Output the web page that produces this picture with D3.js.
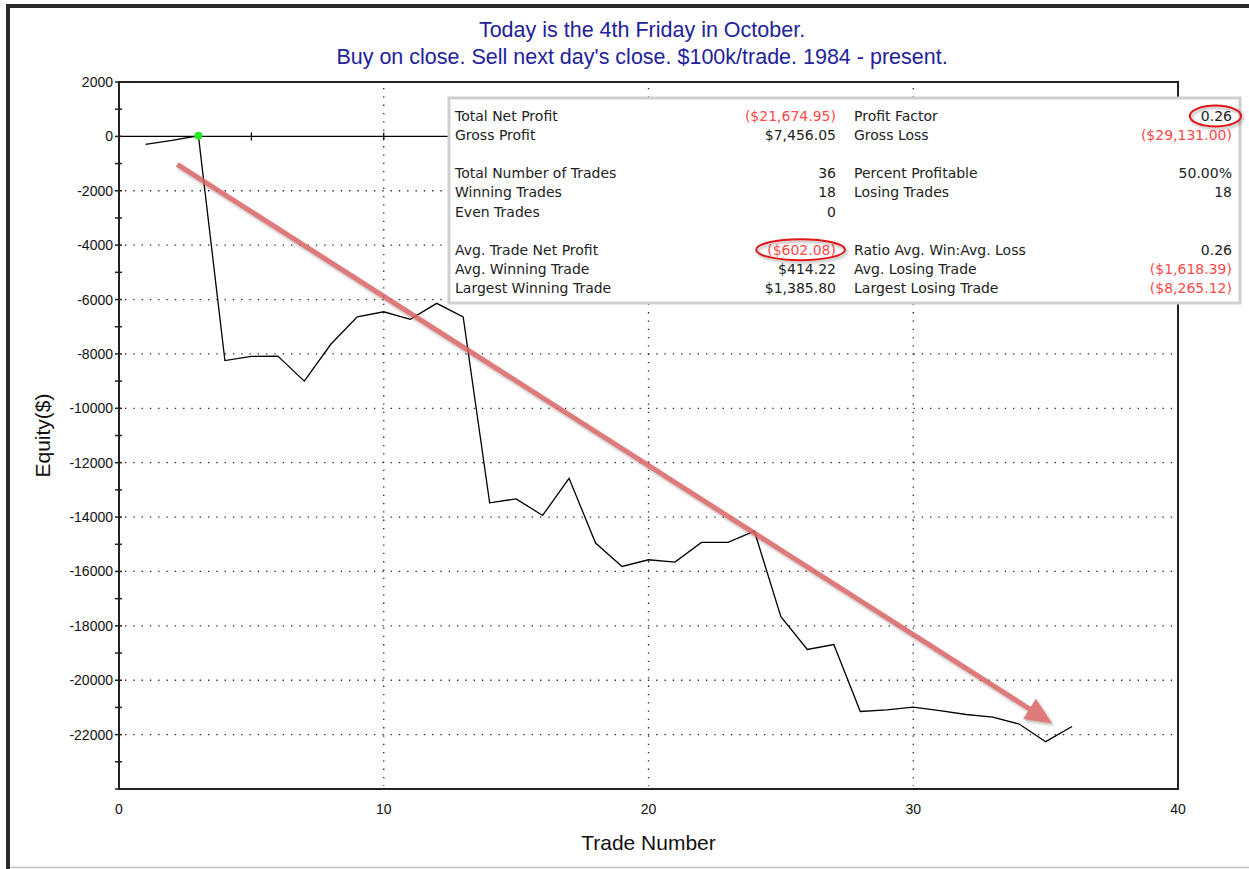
<!DOCTYPE html>
<html>
<head>
<meta charset="utf-8">
<script src="https://cdn.jsdelivr.net/npm/d3@7"></script>
<style>
  body { margin: 0; background: #fff; }
  svg { display: block; }
</style>
</head>
<body>
<div id="chart"></div>
<script>
// equity curve, one value per trade
const tradeNumbers = d3.range(1, 37);
const equity = [-290, -150, 20, -8245, -8090, -8080, -9000, -7645, -6635, -6450,
  -6730, -6140, -6635, -13475, -13330, -13940, -12575, -14955, -15815, -15570,
  -15655, -14930, -14930, -14520, -17665, -18870, -18690, -21150, -21090, -20990,
  -21115, -21260, -21360, -21610, -22260, -21700];
const peakTrade = 3;

const xTicks = [0, 10, 20, 30, 40];
const yTicks = d3.range(2000, -22001, -2000);
const yMinorTicks = d3.range(2000, -24001, -1000);
const zeroLineTicks = d3.range(5, 40, 5);

// trend arrow drawn on top, in data units
const trendArrow = [[2.2, -1030], [35.25, -21590]];

const titleLines = [
  "Today is the 4th Friday in October.",
  "Buy on close. Sell next day's close. $100k/trade. 1984 - present."
];

// performance summary box
const statRows = [0, 1, 3, 4, 5, 7, 8, 9];
const statLabelsLeft = ["Total Net Profit", "Gross Profit", "Total Number of Trades", "Winning Trades",
  "Even Trades", "Avg. Trade Net Profit", "Avg. Winning Trade", "Largest Winning Trade"];
const statValuesLeft = ["($21,674.95)", "$7,456.05", "36", "18", "0", "($602.08)", "$414.22", "$1,385.80"];
const statLabelsRight = ["Profit Factor", "Gross Loss", "Percent Profitable", "Losing Trades",
  "", "Ratio Avg. Win:Avg. Loss", "Avg. Losing Trade", "Largest Losing Trade"];
const statValuesRight = ["0.26", "($29,131.00)", "50.00%", "18", "", "0.26", "($1,618.39)", "($8,265.12)"];
const circledLeft = ["($602.08)"];
const circledRight = ["0.26"];

const width = 1249, height = 869;
const margin = { top: 82, right: 71, bottom: 80, left: 119 };

const svg = d3.select("#chart").append("svg")
  .attr("width", width)
  .attr("height", height)
  .style("font-family", "'Liberation Sans', Arial, sans-serif");

const defs = svg.append("defs");
const shadow = defs.append("filter").attr("id", "shadow")
  .attr("x", "-20%").attr("y", "-20%").attr("width", "140%").attr("height", "160%");
shadow.append("feDropShadow").attr("dx", 1.5).attr("dy", 2).attr("stdDeviation", 1.5)
  .attr("flood-color", "#000").attr("flood-opacity", 0.35);

// window frame
svg.append("rect").attr("width", width).attr("height", height).attr("fill", "#fff");
svg.append("rect").attr("x", 6).attr("y", 4).attr("width", width - 6).attr("height", 4).attr("fill", "#2b2b2b");
svg.append("rect").attr("x", 6).attr("y", 4).attr("width", 4).attr("height", height - 4).attr("fill", "#2b2b2b");
svg.append("line").attr("x1", 10).attr("x2", width).attr("y1", 867.5).attr("y2", 867.5)
  .attr("stroke", "#c4c4c4").attr("stroke-width", 1.5);

const x = d3.scaleLinear().domain([0, 40]).range([margin.left, width - margin.right]);
const y = d3.scaleLinear().domain([-24000, 2000]).range([height - margin.bottom, margin.top]);

// title
svg.append("g").selectAll("text")
  .data(titleLines)
  .join("text")
  .attr("x", 642)
  .attr("y", (d, i) => 37 + i * 27)
  .attr("text-anchor", "middle")
  .attr("font-size", "21.5px")
  .attr("fill", "#22229a")
  .text(d => d);

// dotted grid
const grid = svg.append("g")
  .attr("stroke", "#222")
  .attr("stroke-width", 1.3)
  .attr("stroke-dasharray", "1.3,7");
grid.selectAll("line.h")
  .data(yTicks.filter(v => v !== 0 && v !== 2000))
  .join("line")
  .attr("class", "h")
  .attr("x1", x(0) + 6).attr("x2", x(40) - 3)
  .attr("y1", d => y(d)).attr("y2", d => y(d));
grid.selectAll("line.v")
  .data(xTicks.filter(v => v > 0 && v < 40))
  .join("line")
  .attr("class", "v")
  .attr("y1", y(2000) + 6).attr("y2", y(-24000) - 3)
  .attr("x1", d => x(d)).attr("x2", d => x(d));

// zero line with small ticks
svg.append("line")
  .attr("x1", x(0)).attr("x2", x(40))
  .attr("y1", y(0)).attr("y2", y(0))
  .attr("stroke", "#000").attr("stroke-width", 1.2);
svg.append("g").selectAll("line")
  .data(zeroLineTicks)
  .join("line")
  .attr("x1", d => x(d)).attr("x2", d => x(d))
  .attr("y1", y(0) - 4).attr("y2", y(0) + 4)
  .attr("stroke", "#000").attr("stroke-width", 1.2);

// plot frame
svg.append("rect")
  .attr("x", x(0)).attr("y", y(2000))
  .attr("width", x(40) - x(0)).attr("height", y(-24000) - y(2000))
  .attr("fill", "none").attr("stroke", "#222").attr("stroke-width", 2);

// y axis: minor ticks crossing the axis, labels on the 2000s
svg.append("g").selectAll("line")
  .data(yMinorTicks)
  .join("line")
  .attr("x1", x(0) - 4).attr("x2", x(0) + 3)
  .attr("y1", d => y(d)).attr("y2", d => y(d))
  .attr("stroke", "#222").attr("stroke-width", 1.5);

svg.append("g").selectAll("text")
  .data(yTicks)
  .join("text")
  .attr("x", x(0) - 6)
  .attr("y", d => y(d) + 5)
  .attr("text-anchor", "end")
  .attr("font-size", "14px")
  .attr("fill", "#111")
  .text(d => d);

svg.append("g").selectAll("text")
  .data(xTicks)
  .join("text")
  .attr("x", d => x(d))
  .attr("y", 814)
  .attr("text-anchor", "middle")
  .attr("font-size", "14px")
  .attr("fill", "#111")
  .text(d => d);

// axis titles
svg.append("text")
  .attr("x", x(20))
  .attr("y", 850)
  .attr("text-anchor", "middle")
  .attr("font-size", "21px")
  .attr("fill", "#111")
  .text("Trade Number");

svg.append("text")
  .attr("transform", `translate(50, ${y(-11000)}) rotate(-90)`)
  .attr("text-anchor", "middle")
  .attr("font-size", "21px")
  .attr("fill", "#111")
  .text("Equity($)");

// equity curve
const points = tradeNumbers.map((t, i) => [t, equity[i]]);
const line = d3.line().x(d => x(d[0])).y(d => y(d[1]));
svg.append("path")
  .datum(points)
  .attr("d", line)
  .attr("fill", "none")
  .attr("stroke", "#000")
  .attr("stroke-width", 1.3);

svg.append("circle")
  .attr("cx", x(peakTrade))
  .attr("cy", y(equity[peakTrade - 1]))
  .attr("r", 4)
  .attr("fill", "#22ee22");

// stats box
const box = { x: 449, y: 98, w: 791, h: 205 };
svg.append("rect")
  .attr("x", box.x).attr("y", box.y)
  .attr("width", box.w).attr("height", box.h)
  .attr("fill", "#fff")
  .attr("stroke", "#cfcfcf")
  .attr("stroke-width", 3);

const rowY = r => 121 + r * 19.1;
const stats = svg.append("g")
  .style("font-family", "'DejaVu Sans', Verdana, sans-serif")
  .attr("font-size", "14px");
const isRed = s => s.startsWith("(");

stats.selectAll("text.ll")
  .data(statLabelsLeft)
  .join("text")
  .attr("class", "ll")
  .attr("x", 455).attr("y", (d, i) => rowY(statRows[i]))
  .attr("fill", "#222")
  .text(d => d);
stats.selectAll("text.lv")
  .data(statValuesLeft)
  .join("text")
  .attr("class", "lv")
  .attr("x", 836).attr("y", (d, i) => rowY(statRows[i]))
  .attr("text-anchor", "end")
  .attr("fill", d => isRed(d) ? "#ff4a4a" : "#222")
  .text(d => d);
stats.selectAll("text.rl")
  .data(statLabelsRight)
  .join("text")
  .attr("class", "rl")
  .attr("x", 854).attr("y", (d, i) => rowY(statRows[i]))
  .attr("fill", "#222")
  .text(d => d);
stats.selectAll("text.rv")
  .data(statValuesRight)
  .join("text")
  .attr("class", "rv")
  .attr("x", 1232).attr("y", (d, i) => rowY(statRows[i]))
  .attr("text-anchor", "end")
  .attr("fill", d => isRed(d) ? "#ff4a4a" : "#222")
  .text(d => d);

// red highlight ellipses around chosen values
const circleAround = (sel) => {
  sel.each(function () {
    const b = this.getBBox();
    svg.append("ellipse")
      .attr("cx", b.x + b.width / 2 - 1)
      .attr("cy", b.y + b.height / 2)
      .attr("rx", b.width / 2 + 10)
      .attr("ry", b.height / 2 + 2.5)
      .attr("fill", "none")
      .attr("stroke", "#e01818")
      .attr("stroke-width", 2)
      .attr("filter", "url(#shadow)");
  });
};
circleAround(stats.selectAll("text.lv").filter(d => circledLeft.includes(d)));
circleAround(stats.selectAll("text.rv").filter((d, i) => circledRight.includes(d) && i === 0));

// trend arrow
const [a0, a1] = trendArrow.map(p => [x(p[0]), y(p[1])]);
const ang = Math.atan2(a1[1] - a0[1], a1[0] - a0[0]);
const headLen = 27, headHalf = 12;
const baseX = a1[0] - headLen * Math.cos(ang), baseY = a1[1] - headLen * Math.sin(ang);
const arrow = svg.append("g").attr("filter", "url(#shadow)").attr("opacity", 0.85);
arrow.append("line")
  .attr("x1", a0[0]).attr("y1", a0[1])
  .attr("x2", baseX + 2 * Math.cos(ang)).attr("y2", baseY + 2 * Math.sin(ang))
  .attr("stroke", "#d96464")
  .attr("stroke-width", 5);
arrow.append("path")
  .attr("d", d3.line()([
    a1,
    [baseX + headHalf * Math.sin(ang), baseY - headHalf * Math.cos(ang)],
    [baseX - headHalf * Math.sin(ang), baseY + headHalf * Math.cos(ang)]
  ]) + "Z")
  .attr("fill", "#d96464");
</script>
</body>
</html>
